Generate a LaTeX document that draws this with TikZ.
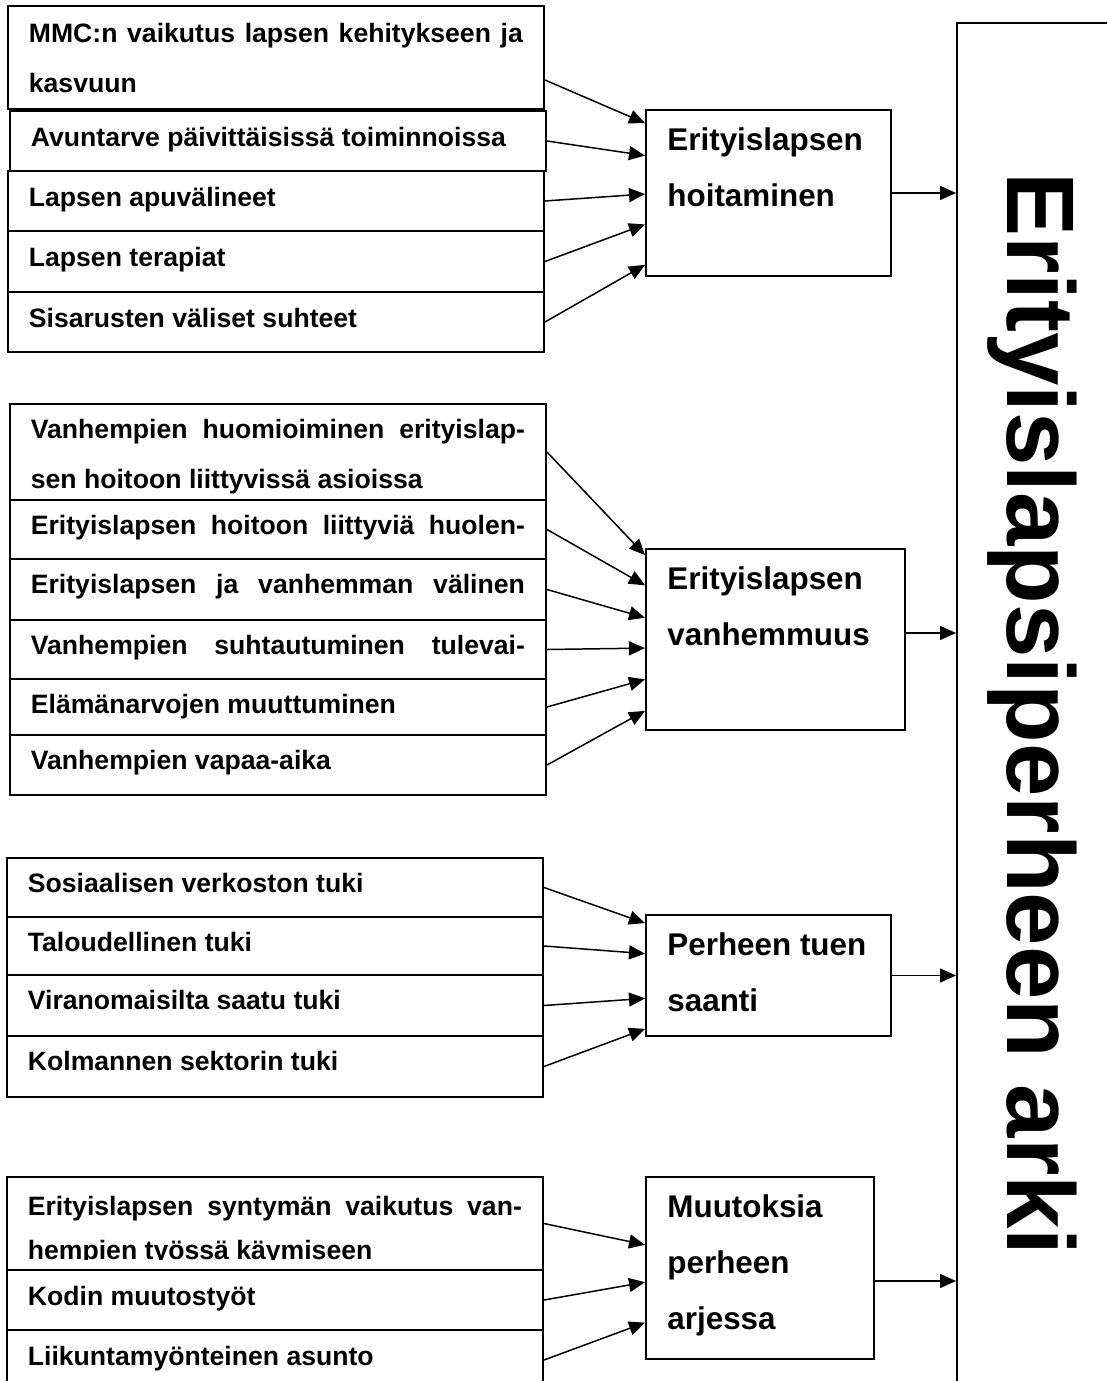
\documentclass[tikz,border=0pt]{standalone}
\usepackage{fontspec}
\setmainfont{Liberation Sans}
\usetikzlibrary{arrows.meta,calc,positioning}

\begin{document}
\begin{tikzpicture}[x=0.5pt,y=-0.5pt,
    itembox/.style={draw,line width=1pt,fill=white,anchor=north west,inner sep=0pt,minimum width=268pt},
    topicbox/.style={draw,line width=1pt,fill=white,anchor=north west,inner sep=0pt},
    itemtext/.style={anchor=base west,inner sep=0pt,font=\fontsize{13.3}{15}\selectfont\bfseries},
    topictext/.style={anchor=base west,inner sep=0pt,font=\fontsize{15.7}{18}\selectfont\bfseries},
    flow/.style={-{Triangle[length=8pt,width=7pt]},line width=0.75pt}]
  \path[use as bounding box] (0,0) rectangle (1107,1381);
  \clip (0,0) rectangle (1107,1381);

  % lapsen hoitaminen
  \node[itembox,minimum height=51.5pt] (a1) at (7,5) {};
  \node[itemtext] (ta1) at ([xshift=10.75pt,yshift=-18.5pt]a1.north west) {\makebox[247pt][s]{MMC:n vaikutus lapsen kehitykseen ja}};
  \node[itemtext] (ta1b) at ([yshift=-25pt]ta1.base west) {kasvuun};
  \foreach \n/\xl/\yt/\hh/\txt in {a2/9/110/60/Avuntarve päivittäisissä toiminnoissa,
      a3/7/170/60/Lapsen apuvälineet, a4/7/230/61/Lapsen terapiat, a5/7/291/60/Sisarusten väliset suhteet}{
    \node[itembox,minimum height=\hh*0.5pt] (\n) at (\xl,\yt) {};
    \node[itemtext] (t\n) at ([xshift=10.75pt,yshift=-18pt]\n.north west) {\txt};
  }

  % vanhemmuus
  \node[itembox,minimum height=48pt] (b1) at (9,403) {};
  \node[itemtext] (tb1) at ([xshift=10.75pt,yshift=-17.5pt]b1.north west) {\makebox[247pt][s]{Vanhempien huomioiminen erityislap-}};
  \node[itemtext] (tb1b) at ([yshift=-25pt]tb1.base west) {sen hoitoon liittyvissä asioissa};
  \foreach \n/\yt/\hh/\txt in {b2/499/59/{\makebox[247pt][s]{Erityislapsen hoitoon liittyviä huolen-}},
      b3/558/61/{\makebox[247pt][s]{Erityislapsen ja vanhemman välinen}},
      b4/619/59/{\makebox[247pt][s]{Vanhempien suhtautuminen tulevai-}},
      b5/678/56/Elämänarvojen muuttuminen, b6/734/60/Vanhempien vapaa-aika}{
    \node[itembox,minimum height=\hh*0.5pt] (\n) at (9,\yt) {};
    \node[itemtext] (t\n) at ([xshift=10.75pt,yshift=-17.5pt]\n.north west) {\txt};
  }

  % tuen saanti
  \foreach \n/\yt/\hh/\txt in {c1/857/59/Sosiaalisen verkoston tuki, c2/916/58/Taloudellinen tuki,
      c3/974/61/Viranomaisilta saatu tuki, c4/1035/61/Kolmannen sektorin tuki}{
    \node[itembox,minimum height=\hh*0.5pt] (\n) at (6,\yt) {};
    \node[itemtext] (t\n) at ([xshift=10.75pt,yshift=-17.5pt]\n.north west) {\txt};
  }

  % muutokset arjessa
  \node[itembox,minimum height=46.5pt] (d1) at (6,1176) {};
  \node[itemtext] (td1) at ([xshift=10.75pt,yshift=-19.5pt]d1.north west) {\makebox[247pt][s]{Erityislapsen syntymän vaikutus van-}};
  \begin{scope}
    \clip (6,1176) rectangle (549,1259);
    \node[itemtext] (td1b) at ([yshift=-22pt]td1.base west) {hempien työssä käymiseen};
  \end{scope}
  \foreach \n/\yt/\txt in {d2/1269/Kodin muutostyöt, d3/1329/Liikuntamyönteinen asunto}{
    \node[itembox,minimum height=30pt] (\n) at (6,\yt) {};
    \node[itemtext] (t\n) at ([xshift=10.75pt,yshift=-18pt]\n.north west) {\txt};
  }

  % teemat
  \node[topicbox,minimum width=122.5pt,minimum height=83pt] (h1) at (645,109) {};
  \node[topicbox,minimum width=129.5pt,minimum height=90.5pt] (h2) at (645,548) {};
  \node[topicbox,minimum width=122.5pt,minimum height=60.5pt] (h3) at (645,914) {};
  \node[topicbox,minimum width=114pt,minimum height=91pt] (h4) at (645,1176) {};
  \foreach \bx/\k/\txt in {h1/0/Erityislapsen, h1/1/hoitaminen, h2/0/Erityislapsen, h2/1/vanhemmuus,
      h3/0/Perheen tuen, h3/1/saanti, h4/0/Muutoksia, h4/1/perheen, h4/2/arjessa}{
    \node[topictext] (t\bx\k) at ([xshift=11pt,yshift={-20.5pt-28pt*\k}]\bx.north west) {\txt};
  }

  % arki
  \node[draw,line width=0.75pt,anchor=north west,inner sep=0pt,minimum width=150pt,minimum height=700pt] (arki) at (956,22) {};
  \node[rotate=-90,anchor=base west,inner sep=0pt,font=\fontsize{48}{58}\selectfont\bfseries] (arkiteksti) at (1007,172) {Erityislapsiperheen arki};

  % nuolet
  \coordinate (a1o) at ([yshift=-11.25pt]a1.east);
  \foreach \s/\f in {a1o/0.084, a2.east/0.277, a3.east/0.506, a4.east/0.687, a5.east/0.928}
    \draw[flow] (\s) -- ($(h1.north west)!\f!(h1.south west)$);
  \foreach \s/\f in {b1.east/0.039, b2.east/0.204, b3.east/0.381, b4.east/0.547, b5.east/0.718, b6.east/0.890}
    \draw[flow] (\s) -- ($(h2.north west)!\f!(h2.south west)$);
  \foreach \s/\f in {c1.east/0.074, c2.east/0.322, c3.east/0.686, c4.east/0.934}
    \draw[flow] (\s) -- ($(h3.north west)!\f!(h3.south west)$);
  \foreach \s/\f in {d1.east/0.374, d2.east/0.577, d3.east/0.797}
    \draw[flow] (\s) -- ($(h4.north west)!\f!(h4.south west)$);

  \coordinate (h2o) at ([yshift=3.25pt]h2.east);
  \coordinate (h4o) at ([yshift=-6.5pt]h4.east);
  \foreach \s in {h1.east, h2o, h3.east, h4o}
    \draw[flow] (\s) -- (\s -| arki.west);
\end{tikzpicture}
\end{document}
